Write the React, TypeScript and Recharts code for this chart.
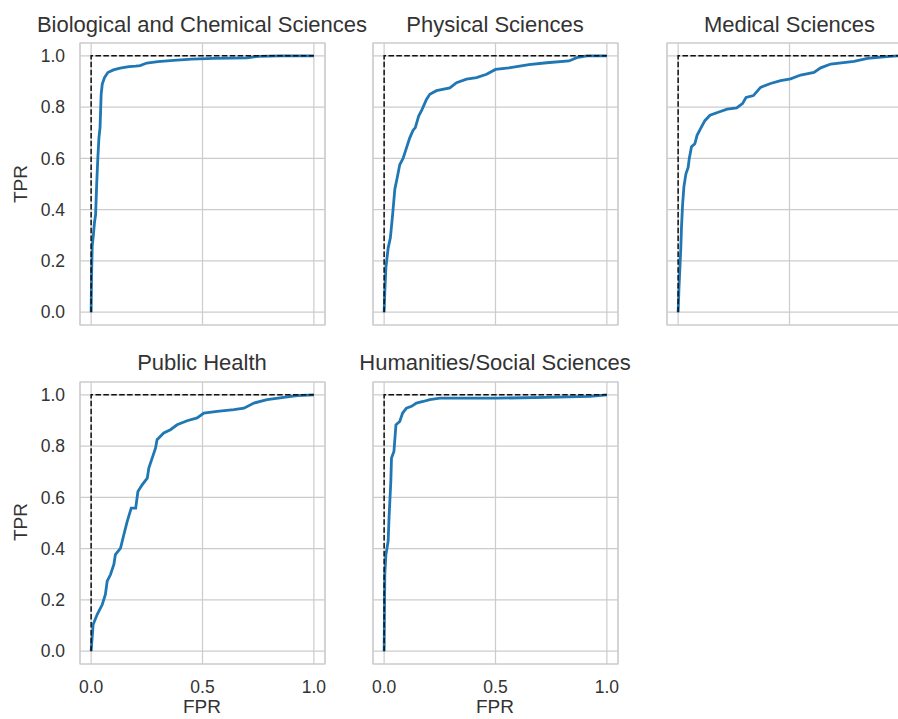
import React from "react";
import {
  LineChart,
  Line,
  XAxis,
  YAxis,
  CartesianGrid,
  ReferenceArea
} from "recharts";

// ROC points, [fpr, tpr]
const bioChem: [number, number][] = [
  [0, 0], [0.002, 0.15], [0.005, 0.26], [0.01, 0.3], [0.015, 0.35], [0.02, 0.38],
  [0.025, 0.5], [0.03, 0.6], [0.035, 0.68], [0.04, 0.72], [0.045, 0.85], [0.05, 0.89],
  [0.06, 0.915], [0.075, 0.935], [0.1, 0.945], [0.13, 0.952], [0.17, 0.958], [0.2, 0.96],
  [0.22, 0.962], [0.25, 0.972], [0.3, 0.977], [0.37, 0.982], [0.45, 0.987], [0.55, 0.99],
  [0.7, 0.992], [0.75, 0.998], [0.85, 1], [1, 1]
];

const physical: [number, number][] = [
  [0, 0], [0.003, 0.08], [0.008, 0.175], [0.018, 0.25], [0.028, 0.29], [0.038, 0.38],
  [0.048, 0.48], [0.06, 0.53], [0.07, 0.575], [0.085, 0.6], [0.1, 0.64], [0.115, 0.68],
  [0.13, 0.71], [0.14, 0.72], [0.155, 0.765], [0.17, 0.79], [0.19, 0.83], [0.205, 0.85],
  [0.235, 0.864], [0.295, 0.875], [0.325, 0.895], [0.37, 0.909], [0.415, 0.915],
  [0.46, 0.928], [0.5, 0.947], [0.56, 0.953], [0.65, 0.966], [0.73, 0.973], [0.83, 0.98],
  [0.865, 0.993], [0.91, 1], [1, 1]
];

const medical: [number, number][] = [
  [0, 0], [0.004, 0.1], [0.008, 0.175], [0.012, 0.25], [0.015, 0.33], [0.02, 0.42],
  [0.026, 0.49], [0.035, 0.54], [0.045, 0.565], [0.05, 0.6], [0.06, 0.645], [0.075, 0.657],
  [0.085, 0.69], [0.1, 0.715], [0.12, 0.747], [0.143, 0.768], [0.18, 0.78], [0.22, 0.792],
  [0.263, 0.797], [0.29, 0.815], [0.305, 0.838], [0.338, 0.845], [0.37, 0.877],
  [0.415, 0.892], [0.46, 0.903], [0.505, 0.91], [0.55, 0.925], [0.61, 0.935], [0.64, 0.953],
  [0.685, 0.968], [0.79, 0.978], [0.85, 0.99], [0.95, 0.998], [1, 1]
];

const publicHealth: [number, number][] = [
  [0, 0], [0.009, 0.104], [0.027, 0.143], [0.05, 0.182], [0.064, 0.221], [0.072, 0.273],
  [0.087, 0.299], [0.102, 0.338], [0.109, 0.377], [0.132, 0.402], [0.147, 0.455],
  [0.162, 0.506], [0.18, 0.558], [0.2, 0.558], [0.21, 0.623], [0.229, 0.649], [0.252, 0.675],
  [0.259, 0.714], [0.274, 0.753], [0.289, 0.792], [0.296, 0.825], [0.326, 0.851],
  [0.356, 0.864], [0.386, 0.883], [0.431, 0.899], [0.476, 0.91], [0.506, 0.929],
  [0.566, 0.935], [0.641, 0.942], [0.686, 0.948], [0.731, 0.968], [0.79, 0.981],
  [0.865, 0.99], [0.925, 0.997], [1, 1]
];

const humanities: [number, number][] = [
  [0, 0], [0.003, 0.299], [0.008, 0.377], [0.018, 0.429], [0.022, 0.52], [0.03, 0.662],
  [0.033, 0.753], [0.044, 0.779], [0.053, 0.883], [0.07, 0.896], [0.083, 0.929], [0.1, 0.948],
  [0.123, 0.955], [0.145, 0.968], [0.175, 0.974], [0.205, 0.981], [0.25, 0.987],
  [0.505, 0.987], [0.73, 0.99], [0.925, 0.994], [1, 1]
];

const perfect: [number, number][] = [[0, 0], [0, 1], [1, 1]];

const FPR_TICKS = [0, 0.5, 1];
const TPR_TICKS = [0, 0.2, 0.4, 0.6, 0.8, 1];

const FONT = "'Liberation Sans', Arial, sans-serif";
const TEXT = "#333333";
const GRID = "#cccccc";

const PW = 245; // plot width
const PH = 282; // plot height
const YW = 60;
const XH = 40;
const M = 2;

const COLS = [79.5, 372.5, 667];
const ROWS = [43, 381.5];

const toRows = (pts: [number, number][]) => pts.map(([fpr, tpr]) => ({ fpr, tpr }));

type PanelProps = {
  title: string;
  points: [number, number][];
  col: number;
  row: number;
  showX: boolean;
  showY: boolean;
};

function RocPanel({ points, col, row, showX, showY }: PanelProps) {
  const tickStyle = { fontSize: 17.5, fill: TEXT, fontFamily: FONT };
  return (
    <div style={{ position: "absolute", left: COLS[col] - YW - M, top: ROWS[row] - M }}>
      <LineChart
        width={M + YW + PW + M}
        height={M + PH + XH + M}
        margin={{ top: M, right: M, bottom: M, left: M }}
      >
        <CartesianGrid stroke={GRID} strokeWidth={1.2} />
        <XAxis
          type="number"
          dataKey="fpr"
          domain={[-0.05, 1.05]}
          ticks={FPR_TICKS}
          interval={0}
          allowDataOverflow
          height={XH}
          axisLine={false}
          tickLine={false}
          tickSize={0}
          tickMargin={17}
          tick={tickStyle}
          tickFormatter={(v: number) => (showX ? v.toFixed(1) : "")}
        />
        <YAxis
          type="number"
          dataKey="tpr"
          domain={[-0.05, 1.05]}
          ticks={TPR_TICKS}
          interval={0}
          allowDataOverflow
          width={YW}
          axisLine={false}
          tickLine={false}
          tickSize={0}
          tickMargin={15}
          tick={tickStyle}
          tickFormatter={(v: number) => (showY ? v.toFixed(1) : "")}
        />
        <ReferenceArea
          x1={-0.05}
          x2={1.05}
          y1={-0.05}
          y2={1.05}
          fill="none"
          stroke={GRID}
          strokeWidth={1.2}
          ifOverflow="visible"
        />
        <Line
          data={toRows(points)}
          dataKey="tpr"
          type="linear"
          stroke="#1f77b4"
          strokeWidth={2.8}
          dot={false}
          activeDot={false}
          isAnimationActive={false}
        />
        <Line
          data={toRows(perfect)}
          dataKey="tpr"
          type="linear"
          stroke="#111111"
          strokeWidth={1.5}
          strokeDasharray="5.5 2.4"
          dot={false}
          activeDot={false}
          isAnimationActive={false}
        />
      </LineChart>
    </div>
  );
}

const PANELS: PanelProps[] = [
  { title: "Biological and Chemical Sciences", points: bioChem, col: 0, row: 0, showX: false, showY: true },
  { title: "Physical Sciences", points: physical, col: 1, row: 0, showX: false, showY: false },
  { title: "Medical Sciences", points: medical, col: 2, row: 0, showX: false, showY: false },
  { title: "Public Health", points: publicHealth, col: 0, row: 1, showX: true, showY: true },
  { title: "Humanities/Social Sciences", points: humanities, col: 1, row: 1, showX: true, showY: false }
];

export default function App() {
  return (
    <div
      style={{
        position: "absolute",
        left: 0,
        top: 0,
        width: 898,
        height: 719,
        overflow: "hidden",
        background: "#ffffff"
      }}
    >
      {PANELS.map((p) => (
        <RocPanel key={p.title} {...p} />
      ))}
      <svg
        width={898}
        height={719}
        style={{ position: "absolute", left: 0, top: 0, pointerEvents: "none" }}
        fontFamily={FONT}
        fill={TEXT}
      >
        {PANELS.map((p) => (
          <text
            key={p.title}
            x={COLS[p.col] + PW / 2}
            y={ROWS[p.row] - 11.3}
            textAnchor="middle"
            fontSize={22}
          >
            {p.title}
          </text>
        ))}
        <text x={27} y={184} fontSize={19} textAnchor="middle" transform="rotate(-90 27 184)">
          TPR
        </text>
        <text x={27} y={522} fontSize={19} textAnchor="middle" transform="rotate(-90 27 522)">
          TPR
        </text>
        <text x={COLS[0] + PW / 2} y={712.7} fontSize={19} textAnchor="middle">
          FPR
        </text>
        <text x={COLS[1] + PW / 2} y={712.7} fontSize={19} textAnchor="middle">
          FPR
        </text>
      </svg>
    </div>
  );
}
